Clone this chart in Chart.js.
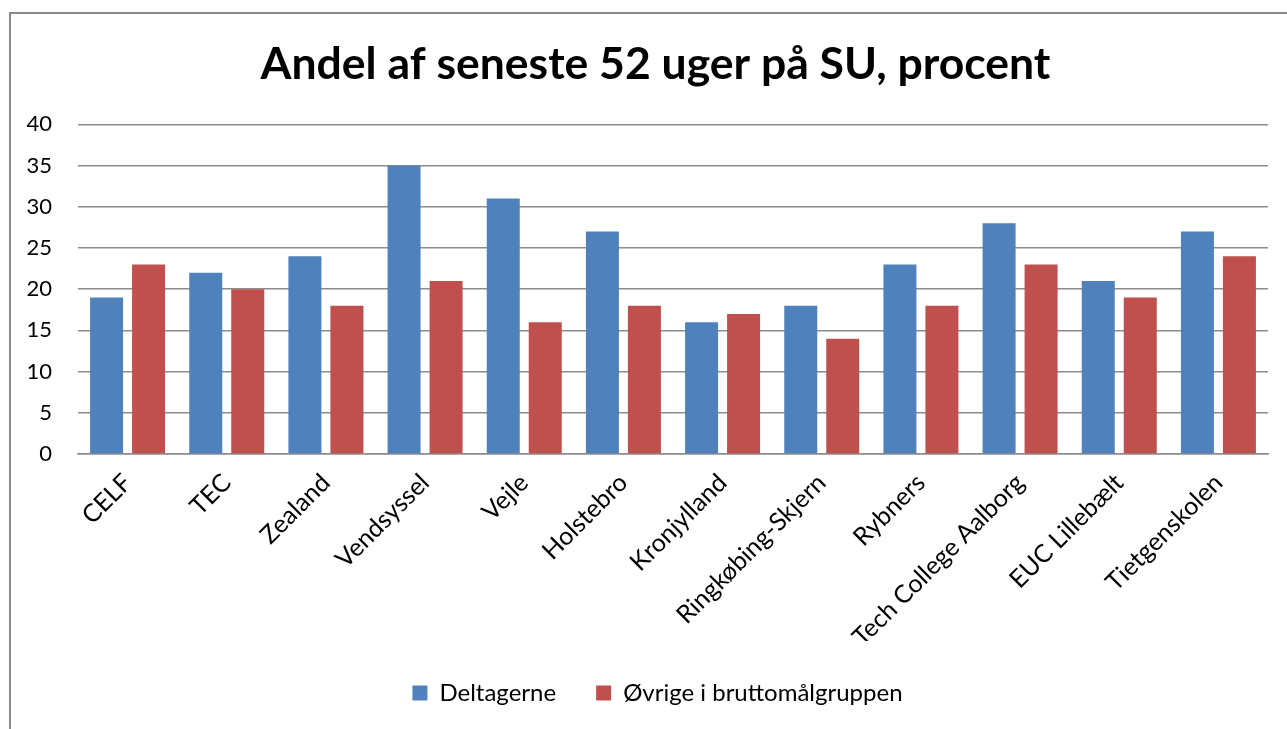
<!DOCTYPE html>
<html lang="da">
<head>
<meta charset="UTF-8">
<title>Andel af seneste 52 uger på SU</title>
<script src="https://cdn.jsdelivr.net/npm/chart.js"></script>
<style>
  html, body { margin: 0; padding: 0; background: #fff; overflow: hidden; }
  .frame {
    position: absolute; left: 9px; top: 12px;
    width: 1300px; height: 730px;
    border: 2px solid #8a8a8a; box-sizing: border-box;
  }
  .box { position: absolute; left: 0; top: 0; width: 1296px; height: 715px; }
</style>
</head>
<body>
<div class="frame">
  <div class="box"><canvas id="suChart"></canvas></div>
</div>
<script>
const categories = ['CELF', 'TEC', 'Zealand', 'Vendsyssel', 'Vejle', 'Holstebro', 'Kronjylland',
  'Ringkøbing-Skjern', 'Rybners', 'Tech College Aalborg', 'EUC Lillebælt', 'Tietgenskolen'];
const deltagerne = [19, 22, 24, 35, 31, 27, 16, 18, 23, 28, 21, 27];
const oevrige = [23, 20, 18, 21, 16, 18, 17, 14, 18, 23, 19, 24];
const yTicks = [0, 5, 10, 15, 20, 25, 30, 35, 40];

const FONT = 'Lato, "Open Sans", sans-serif';
const gridColor = '#8c8c8c';

// titel og forklaring sidder lidt til højre for midten i originalen
const shiftBlocks = {
  id: 'shiftBlocks',
  afterLayout(chart) {
    chart.titleBlock.left += 16;
    chart.titleBlock.right += 16;
    chart.legend.left += 18;
    chart.legend.right += 18;
  }
};

new Chart(document.getElementById('suChart'), {
  type: 'bar',
  data: {
    labels: categories,
    datasets: [
      { label: 'Deltagerne', data: deltagerne, backgroundColor: '#4F81BD',
        categoryPercentage: 0.847, barPercentage: 0.786 },
      { label: 'Øvrige i bruttomålgruppen', data: oevrige, backgroundColor: '#C0504D',
        categoryPercentage: 0.847, barPercentage: 0.786 }
    ]
  },
  options: {
    responsive: true,
    maintainAspectRatio: false,
    animation: false,
    layout: { padding: { left: 0, right: 39, top: 0, bottom: 14 } },
    plugins: {
      title: {
        display: true,
        text: 'Andel af seneste 52 uger på SU, procent',
        color: '#000',
        font: { family: FONT, size: 44.5, weight: 'bold', lineHeight: 1.2 },
        padding: { top: 24, bottom: 33 }
      },
      legend: {
        position: 'bottom',
        labels: {
          color: '#000',
          font: { family: FONT, size: 24 },
          boxWidth: 15, boxHeight: 15,
          padding: 40
        }
      },
      tooltip: { enabled: false }
    },
    scales: {
      y: {
        min: 0, max: 40,
        afterBuildTicks: s => { s.ticks = yTicks.map(v => ({ value: v })); },
        afterFit: s => { s.width = 67; },
        border: { display: false },
        grid: { color: gridColor, lineWidth: 1.5, drawTicks: false },
        ticks: { color: '#000', padding: 26, font: { family: FONT, size: 22 } }
      },
      x: {
        afterFit: s => { s.height = 187; },
        border: { color: gridColor, width: 1.5 },
        grid: { display: false },
        ticks: {
          color: '#000', minRotation: 45, maxRotation: 45, padding: 6,
          font: { family: FONT, size: 25 }
        }
      }
    }
  },
  plugins: [shiftBlocks]
});
</script>
</body>
</html>
